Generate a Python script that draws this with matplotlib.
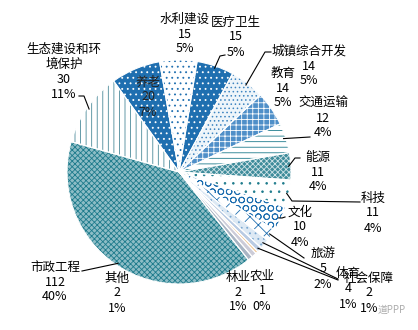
import matplotlib
matplotlib.use("Agg")
import matplotlib.pyplot as plt
import numpy as np

plt.rcParams['font.family'] = ['Noto Sans CJK SC', 'DejaVu Sans']
plt.rcParams['hatch.linewidth'] = 0.6

# ---- data ----
categories = ['水利建设', '医疗卫生', '城镇综合开发', '教育', '交通运输', '能源', '科技',
              '文化', '旅游', '体育', '社会保障', '农业', '林业', '其他', '市政工程',
              '生态建设和环境保护', '养老']
values = [15, 15, 14, 14, 12, 11, 11, 10, 5, 4, 2, 1, 2, 2, 112, 30, 20]
percent_labels = ['5%', '5%', '5%', '5%', '4%', '4%', '4%', '4%', '2%', '1%', '1%',
                  '0%', '1%', '1%', '40%', '11%', '7%']
name_labels = ['水利建设', '医疗卫生', '城镇综合开发', '教育', '交通运输', '能源', '科技',
               '文化', '旅游', '体育', '社会保障', '农业', '林业', '其他', '市政工程',
               '生态建设和环\n境保护', '养老']

# ---- styles ----
BLUE = '#1f6fb0'
TEAL = '#1e7b8c'
styles = [
    ('white', '...', BLUE),          # 水利建设
    (BLUE, '...', 'white'),          # 医疗卫生
    ('#eef5fa', '....', '#3f85c0'),  # 城镇综合开发
    ('#4f8fc8', '+++', 'white'),     # 教育
    ('white', '---', TEAL),          # 交通运输
    ('#3f8c9b', 'xxxxxx', '#cfe3e7'),  # 能源
    ('white', '..', TEAL),           # 科技
    ('white', 'OO', BLUE),           # 文化
    ('white', 'xx', BLUE),           # 旅游
    ('#dde9f4', '...', '#7aa7d0'),   # 体育
    ('#b9cbe3', None, None),         # 社会保障
    ('#f1c48f', None, None),         # 农业
    ('#ccccd8', None, None),         # 林业
    ('#a9b5c4', None, None),         # 其他
    ('#8dbdc6', 'xxxxxx', TEAL),     # 市政工程
    ('white', '|||', '#4a8a99'),     # 生态建设
    (BLUE, '...', 'white'),          # 养老
]

# label layout (pixel centres) and leader-line label-side points
CX, CY, R = 179, 172, 112
label_pos = [(185, 34), (236, 37), (309, 66), (283, 88), (323, 118), (318, 172),
             (373, 213), (300, 227), (323, 269), (348, 289), (369, 293), (262, 291),
             (238, 292), (117, 293), (55, 282), (64, 72), (148, 97)]
leaders = {
    1: [(225, 55), (220, 56)],
    2: [(271, 52), (265, 52)],
    4: [(310, 137)],
    5: [(300, 158), (295, 158)],
    6: [(360, 202), (292, 201)],
    7: [(285, 217), (282, 218)],
    8: [(304, 258)],
    9: [(338, 279)],
    10: [(338, 280)],
    14: [(82, 271)],
    15: [(79, 96), (84, 96)],
}


def P(px, py):
    return ((px - CX) / R, (CY - py) / R)


fig = plt.figure(figsize=(4.18, 3.30), dpi=100)
ax = fig.add_axes([(CX - R) / 418, (330 - CY - R) / 330, 2 * R / 418, 2 * R / 330])

wedges, _ = ax.pie(values, startangle=100, counterclock=False, radius=1.0,
                   wedgeprops=dict(linewidth=0))
for w, (fc, h, hc) in zip(wedges, styles):
    w.set_facecolor(fc)
    if h:
        w.set_hatch(h)
        w.set_edgecolor(hc)
    w.set_linewidth(0)

# white borders
ax.pie(values, startangle=100, counterclock=False, radius=1.0,
       wedgeprops=dict(facecolor='none', edgecolor='white', linewidth=0.8))

ax.set_xlim(-1, 1)
ax.set_ylim(-1, 1)
ax.set_aspect('equal')
ax.axis('off')

# labels
for i, (nm, v, pc) in enumerate(zip(name_labels, values, percent_labels)):
    x, y = P(*label_pos[i])
    ax.text(x, y, f"{nm}\n{v}\n{pc}", ha='center', va='center', multialignment='center',
            fontsize=9, linespacing=1.2, color='#222222' if i == 16 else 'black')

# leader lines
for i, pts in leaders.items():
    w = wedges[i]
    mid = np.deg2rad((w.theta1 + w.theta2) / 2)
    anchor = (0.98 * np.cos(mid), 0.98 * np.sin(mid))
    xs = [P(*p)[0] for p in pts] + [anchor[0]]
    ys = [P(*p)[1] for p in pts] + [anchor[1]]
    ax.plot(xs, ys, color='black', lw=0.8, clip_on=False)

fig.text(392 / 418, 1 - 310 / 330, '道PPP', fontsize=7, color='#999999',
         ha='center', va='center', alpha=0.8)

fig.savefig('out.png', dpi=100)
